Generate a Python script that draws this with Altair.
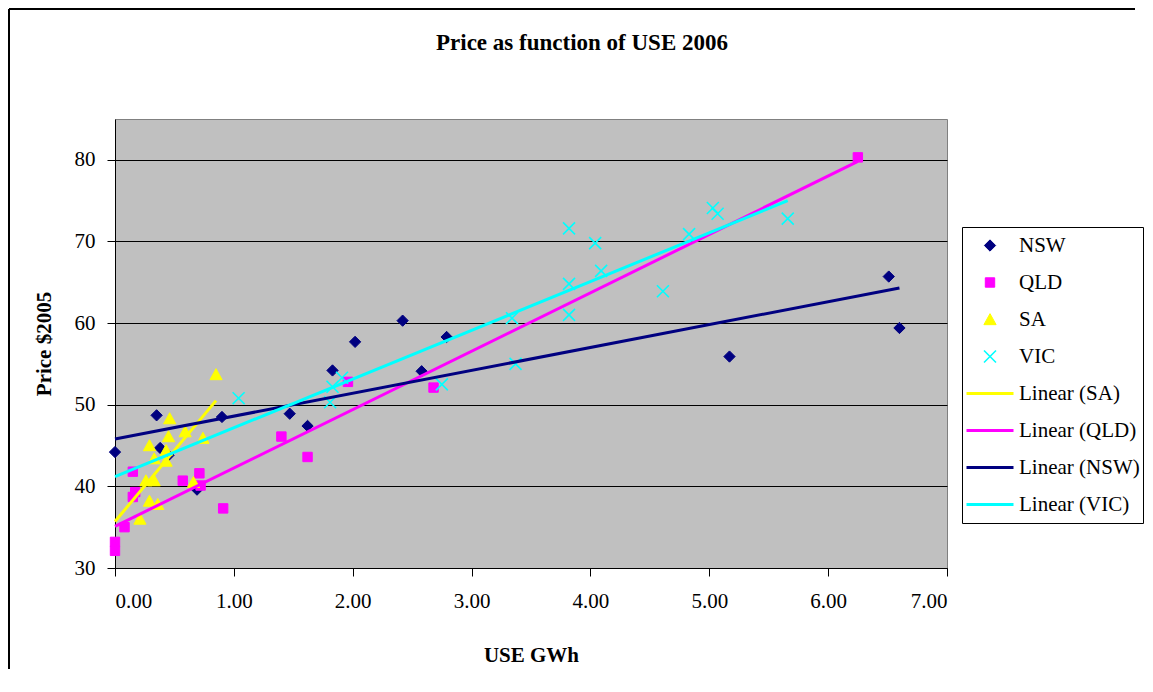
import altair as alt
import pandas as pd

# ---------------- data ----------------
series_names = ["NSW", "QLD", "SA", "VIC"]

nsw_x = [0.00, 0.35, 0.38, 0.45, 0.69, 0.90, 1.47, 1.62, 1.83, 2.02, 2.42, 2.58, 2.79, 5.17, 6.51, 6.60]
nsw_y = [44.2, 48.7, 44.7, 43.8, 39.6, 48.5, 48.9, 47.4, 54.2, 57.7, 60.3, 54.1, 58.3, 55.9, 65.7, 59.4]

qld_x = [0.00, 0.00, 0.08, 0.15, 0.15, 0.17, 0.57, 0.71, 0.72, 0.91, 1.40, 1.62, 1.96, 2.68, 6.25]
qld_y = [33.2, 32.1, 35.0, 41.8, 38.7, 39.3, 40.7, 41.6, 40.1, 37.3, 46.1, 43.6, 52.8, 52.1, 80.3]

sa_x = [0.21, 0.26, 0.29, 0.29, 0.33, 0.33, 0.36, 0.43, 0.43, 0.45, 0.46, 0.59, 0.66, 0.74, 0.85]
sa_y = [36.0, 40.7, 45.0, 38.2, 43.4, 40.7, 37.8, 44.4, 43.1, 46.1, 48.3, 46.7, 40.5, 45.9, 53.7]

vic_x = [1.04, 1.81, 1.83, 1.91, 2.75, 3.34, 3.37, 3.82, 3.82, 3.82, 4.04, 4.09, 4.61, 4.83, 5.03, 5.07, 5.66]
vic_y = [50.8, 50.3, 52.2, 53.3, 52.5, 60.6, 55.0, 71.6, 64.8, 61.0, 69.8, 66.4, 63.9, 70.9, 74.1, 73.4, 72.8]

# Excel linear trendlines (end points)
trend_labels = ["Linear (SA)", "Linear (QLD)", "Linear (NSW)", "Linear (VIC)"]
trend_x_start = [0.00, 0.00, 0.00, 0.00]
trend_x_end = [0.85, 6.25, 6.60, 5.66]
trend_y_start = [35.7, 35.1, 45.8, 41.2]
trend_y_end = [50.5, 79.8, 64.3, 75.0]

x_ticks = [0, 1, 2, 3, 4, 5, 6, 7]
y_ticks = [30, 40, 50, 60, 70, 80]

title_text = ["Price as function of USE 2006"]

# ---------------- styling ----------------
legend_order = series_names + trend_labels
colors = ["#000080", "#FF00FF", "#FFFF00", "#00FFFF",
          "#FFFF00", "#FF00FF", "#000080", "#00FFFF"]
shapes = [
    "M0,-0.24L0.24,0L0,0.24L-0.24,0Z",
    "M-0.2,-0.2L0.2,-0.2L0.2,0.2L-0.2,0.2Z",
    "M0,-0.25L0.26,0.22L-0.26,0.22Z",
    "M-0.255,-0.255L0.255,0.255M-0.255,0.255L0.255,-0.255",
    "M-1,0L1,0", "M-1,0L1,0", "M-1,0L1,0", "M-1,0L1,0",
]
stroke_widths = [1, 1, 1, 1.6, 3, 3, 3, 3]
SYM = 2209
FONT = "Liberation Serif"

rows = []
for name, xs, ys in zip(series_names, [nsw_x, qld_x, sa_x, vic_x], [nsw_y, qld_y, sa_y, vic_y]):
    for a, b in zip(xs, ys):
        rows.append({"label": name, "x": a, "y": b})
points = pd.DataFrame(rows)

lrows = []
for i, lab in enumerate(trend_labels):
    lrows.append({"label": lab, "x": trend_x_start[i], "y": trend_y_start[i], "o": i})
    lrows.append({"label": lab, "x": trend_x_end[i], "y": trend_y_end[i], "o": i})
lines = pd.DataFrame(lrows)

no_leg = alt.Legend(title=None)
fill_s = alt.Scale(domain=legend_order, range=colors)
stroke_s = alt.Scale(domain=legend_order, range=colors)
shape_s = alt.Scale(domain=legend_order, range=shapes)
sw_s = alt.Scale(type="ordinal", domain=legend_order, range=stroke_widths)

x_enc = alt.X("x:Q", scale=alt.Scale(domain=[0, 7], nice=False, zero=False),
              axis=alt.Axis(values=x_ticks, format=".2f", grid=False, title="USE GWh",
                            labelPadding=14, titlePadding=33))
y_enc = alt.Y("y:Q", scale=alt.Scale(domain=[30, 85], nice=False, zero=False),
              axis=alt.Axis(values=y_ticks, grid=True, gridColor="#000000", gridWidth=1,
                            title="Price $2005", labelPadding=12, titlePadding=20))

pts = alt.Chart(points).mark_point(filled=True, opacity=1, size=SYM).encode(
    x=x_enc, y=y_enc,
    fill=alt.Fill("label:N", scale=fill_s, legend=no_leg),
    stroke=alt.Stroke("label:N", scale=stroke_s, legend=no_leg),
    shape=alt.Shape("label:N", scale=shape_s, legend=no_leg),
    strokeWidth=alt.StrokeWidth("label:N", scale=sw_s, legend=no_leg),
)

trend = alt.Chart(lines).mark_line(opacity=1).encode(
    x="x:Q", y="y:Q",
    stroke=alt.Stroke("label:N", scale=stroke_s, legend=no_leg),
    strokeWidth=alt.StrokeWidth("label:N", scale=sw_s, legend=no_leg),
    order="o:Q",
)

one = pd.DataFrame({"t": title_text})
title_mark = alt.Chart(one).mark_text(
    font=FONT, fontSize=23, fontWeight="bold", color="black", align="center", baseline="alphabetic"
).encode(text="t:N", x=alt.value(467), y=alt.value(-69))

frame_left = alt.Chart(one).mark_rule(color="#000000", strokeWidth=2).encode(
    x=alt.value(-106), y=alt.value(-110), y2=alt.value(550))
frame_top = alt.Chart(one).mark_rule(color="#000000", strokeWidth=2).encode(
    x=alt.value(-106), x2=alt.value(1020), y=alt.value(-110))

chart = alt.layer(frame_left, frame_top, title_mark, pts, trend).properties(
    width=832, height=449, padding=0, background="white"
).configure_view(
    fill="#C0C0C0", stroke="#808080", strokeWidth=1
).configure_axis(
    labelFont=FONT, labelFontSize=21, labelColor="black",
    titleFont=FONT, titleFontSize=21, titleFontWeight="bold", titleColor="black",
    domainColor="black", domainWidth=1, tickColor="black", tickSize=8, tickWidth=1,
).configure_legend(
    orient="none", legendX=847, legendY=108, padding=3,
    strokeColor="black", fillColor="white", strokeWidth=1,
    labelFont=FONT, labelFontSize=21, labelColor="black", labelOffset=4,
    symbolSize=SYM, clipHeight=31, rowPadding=6, labelLimit=300,
)

chart.save("out.html", embed_options={"renderer": "svg", "actions": False})
